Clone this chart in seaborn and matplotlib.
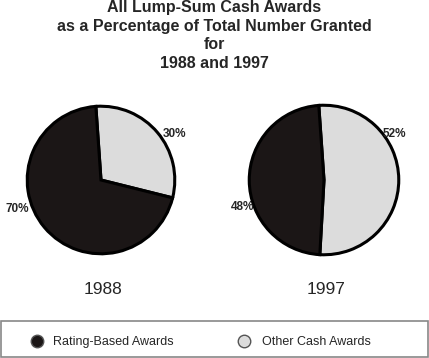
import matplotlib
matplotlib.use("Agg")
import matplotlib.pyplot as plt
import seaborn as sns
from matplotlib.lines import Line2D
from matplotlib.patches import Rectangle

sns.set_style("white")
plt.rcParams['font.family'] = ['Liberation Sans', 'DejaVu Sans']

# data
years = ["1988", "1997"]
categories = ["Rating-Based Awards", "Other Cash Awards"]
rating_based = [70, 48]
other_cash = [30, 52]
title_lines = ["All Lump-Sum Cash Awards", "as a Percentage of Total Number Granted",
               "for", "1988 and 1997"]

dark = "#1b1616"
light = "#dcdcdc"

fig = plt.figure(figsize=(4.29, 3.58), dpi=100)
W, H = 429, 358

# title, one line at a time (pixel baselines)
for line, base in zip(title_lines, [12, 30.5, 49, 68.5]):
    fig.text(0.5, 1 - base / H, line, ha="center", va="baseline",
             fontsize=11.5, fontweight="bold")

# pie placement (pixels): center x, center y, radius
pies = [(101, 180, 76), (324, 180, 77)]
# label offsets in pie radius units (other, rating)
label_pos = [((1.0, 0.62), (-1.13, -0.39)), ((0.94, 0.61), (-1.09, -0.36))]

for i, (cx, cy, r) in enumerate(pies):
    ax = fig.add_axes([(cx - r) / W, (H - cy - r) / H, 2 * r / W, 2 * r / H])
    ax.pie([other_cash[i], rating_based[i]], colors=[light, dark], startangle=94,
           counterclock=False, radius=1,
           wedgeprops=dict(edgecolor="black", linewidth=2.2))
    ax.set_xlim(-1.03, 1.03)
    ax.set_ylim(-1.03, 1.03)
    ax.set_aspect("equal")
    ax.axis("off")
    (ox, oy), (rx, ry) = label_pos[i]
    ax.text(ox, oy, f"{other_cash[i]}%", ha="center", va="center",
            fontsize=8.5, fontweight="bold", clip_on=False)
    ax.text(rx, ry, f"{rating_based[i]}%", ha="center", va="center",
            fontsize=8.5, fontweight="bold", clip_on=False)
    fig.text((cx + 2) / W, 1 - 290 / H, years[i], ha="center", va="center", fontsize=12.5)

# legend frame
fig.patches.append(Rectangle((1 / W, 1.5 / H), 427 / W, 35.5 / H, transform=fig.transFigure,
                             fill=False, edgecolor="#888888", linewidth=1.2))
face = [dark, light]
marker_x = [37, 244]
pads = [0.78, 0.94]
for name, fc, mx, pad in zip(categories, face, marker_x, pads):
    h = Line2D([], [], marker="o", linestyle="", markersize=9,
               markerfacecolor=fc, markeredgecolor="#555555")
    fig.legend([h], [name], loc="center left",
               bbox_to_anchor=((mx - 6.25) / W, 1 - 342 / H),
               fontsize=9, frameon=False, handlelength=1.0,
               handletextpad=pad, borderaxespad=0, borderpad=0)

fig.savefig("out.png", dpi=100)
